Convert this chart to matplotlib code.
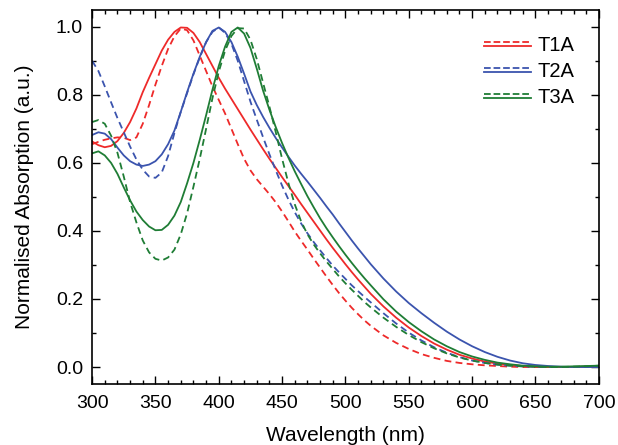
import numpy as np
import matplotlib
matplotlib.use('Agg')
import matplotlib.pyplot as plt
from matplotlib.lines import Line2D
from matplotlib.legend_handler import HandlerBase
from matplotlib.ticker import MultipleLocator

plt.rcParams['font.family'] = ['Liberation Sans', 'DejaVu Sans']

# wavelength grid (nm)
wl = [300, 305, 310, 315, 320, 325, 330, 335, 340, 345, 350, 355, 360, 365, 370,
      375, 380, 385, 390, 395, 400, 405, 410, 415, 420, 425, 430, 435, 440, 445,
      450, 455, 460, 465, 470, 475, 480, 485, 490, 495, 500, 505, 510, 515, 520,
      530, 540, 550, 560, 570, 580, 590, 600, 610, 620, 630, 640, 650, 660, 670,
      680, 690, 700]

# T1A
t1a_solid = [0.663, 0.652, 0.646, 0.650, 0.664, 0.688, 0.720, 0.760, 0.808, 0.850,
             0.890, 0.930, 0.962, 0.985, 0.998, 0.997, 0.982, 0.955, 0.920, 0.885,
             0.850, 0.818, 0.788, 0.758, 0.728, 0.698, 0.669, 0.640, 0.612, 0.585,
             0.558, 0.532, 0.506, 0.479, 0.453, 0.427, 0.401, 0.375, 0.350, 0.326,
             0.302, 0.279, 0.257, 0.236, 0.215,
             0.178, 0.145, 0.116, 0.091, 0.069, 0.051, 0.036, 0.025, 0.016, 0.010,
             0.006, 0.003, 0.001, 0.000, 0.000, 0.000, 0.001, 0.002]
t1a_dash = [0.655, 0.662, 0.668, 0.672, 0.675, 0.674, 0.667, 0.675, 0.715, 0.770,
            0.830, 0.885, 0.935, 0.972, 0.995, 0.990, 0.960, 0.915, 0.870, 0.825,
            0.785, 0.745, 0.700, 0.655, 0.612, 0.578, 0.552, 0.530, 0.508, 0.484,
            0.457, 0.428, 0.398, 0.371, 0.345, 0.318, 0.292, 0.266, 0.241, 0.217,
            0.195, 0.174, 0.155, 0.137, 0.121,
            0.093, 0.071, 0.053, 0.038, 0.027, 0.018, 0.012, 0.008, 0.005, 0.003,
            0.001, 0.000, 0.000, 0.000, 0.000, 0.000, 0.001, 0.002]

# T2A
t2a_solid = [0.682, 0.690, 0.686, 0.670, 0.645, 0.622, 0.605, 0.595, 0.591, 0.595,
             0.605, 0.625, 0.655, 0.695, 0.750, 0.808, 0.862, 0.912, 0.955, 0.988,
             0.998, 0.985, 0.955, 0.912, 0.862, 0.810, 0.770, 0.735, 0.703, 0.673,
             0.645, 0.618, 0.592, 0.568, 0.545, 0.521, 0.497, 0.472, 0.448, 0.422,
             0.397, 0.372, 0.348, 0.325, 0.302,
             0.260, 0.222, 0.188, 0.158, 0.130, 0.104, 0.081, 0.061, 0.044, 0.030,
             0.019, 0.011, 0.006, 0.003, 0.001, 0.000, 0.000, 0.000]
t2a_dash = [0.900, 0.870, 0.825, 0.778, 0.732, 0.690, 0.648, 0.610, 0.580, 0.560,
            0.556, 0.572, 0.620, 0.688, 0.750, 0.805, 0.860, 0.910, 0.955, 0.985,
            0.998, 0.982, 0.950, 0.900, 0.840, 0.780, 0.727, 0.675, 0.625, 0.578,
            0.533, 0.492, 0.455, 0.422, 0.393, 0.367, 0.343, 0.320, 0.298, 0.278,
            0.259, 0.240, 0.223, 0.206, 0.190,
            0.158, 0.128, 0.101, 0.078, 0.058, 0.042, 0.029, 0.019, 0.012, 0.007,
            0.004, 0.002, 0.001, 0.000, 0.000, 0.000, 0.000, 0.001]

# T3A
t3a_solid = [0.628, 0.634, 0.622, 0.600, 0.568, 0.528, 0.490, 0.457, 0.432, 0.413,
             0.402, 0.403, 0.418, 0.445, 0.485, 0.540, 0.600, 0.668, 0.740, 0.815,
             0.885, 0.942, 0.985, 0.998, 0.980, 0.938, 0.877, 0.812, 0.756, 0.705,
             0.658, 0.615, 0.575, 0.538, 0.502, 0.469, 0.437, 0.408, 0.381, 0.355,
             0.330, 0.306, 0.283, 0.261, 0.240,
             0.199, 0.163, 0.132, 0.105, 0.081, 0.061, 0.044, 0.031, 0.021, 0.013,
             0.008, 0.004, 0.002, 0.001, 0.001, 0.002, 0.003, 0.004]
t3a_dash = [0.720, 0.726, 0.715, 0.680, 0.630, 0.560, 0.485, 0.425, 0.372, 0.337,
            0.318, 0.313, 0.322, 0.345, 0.390, 0.452, 0.530, 0.612, 0.700, 0.790,
            0.868, 0.930, 0.973, 0.996, 0.995, 0.962, 0.905, 0.835, 0.765, 0.690,
            0.612, 0.540, 0.478, 0.428, 0.390, 0.360, 0.334, 0.310, 0.288, 0.266,
            0.246, 0.227, 0.209, 0.191, 0.175,
            0.145, 0.118, 0.094, 0.073, 0.055, 0.040, 0.028, 0.019, 0.012, 0.007,
            0.004, 0.002, 0.001, 0.000, 0.000, 0.001, 0.002, 0.004]

names = ['T1A', 'T2A', 'T3A']
colors = ['#ee2a2a', '#3b54ae', '#1f7d35']
solids = [t1a_solid, t2a_solid, t3a_solid]
dashes = [t1a_dash, t2a_dash, t3a_dash]


# legend entry: dashed line stacked above the solid one
class HandlerPair(HandlerBase):
    def create_artists(self, legend, orig_handle, xdescent, ydescent,
                       width, height, fontsize, trans):
        dash, solid = orig_handle
        yc = height / 2 - ydescent
        off = 1.4
        l1 = Line2D([-xdescent, width - xdescent], [yc + off, yc + off],
                    color=dash.get_color(), lw=dash.get_linewidth(),
                    linestyle=dash.get_linestyle(), transform=trans)
        l2 = Line2D([-xdescent, width - xdescent], [yc - off, yc - off],
                    color=solid.get_color(), lw=solid.get_linewidth(),
                    transform=trans)
        return [l1, l2]


fig = plt.figure(figsize=(6.18, 4.45), dpi=100)
ax = fig.add_axes([0.149, 0.137, 0.820, 0.841])

handles = []
for name, c, s, d in zip(names, colors, solids, dashes):
    ls, = ax.plot(wl, s, color=c, lw=1.3)
    ld, = ax.plot(wl, d, color=c, lw=1.3, linestyle=(0, (3.8, 2.4)))
    handles.append((ld, ls))

ax.set_xlim(300, 700)
ax.set_ylim(-0.05, 1.05)
ax.xaxis.set_major_locator(MultipleLocator(50))
ax.xaxis.set_minor_locator(MultipleLocator(10))
ax.yaxis.set_major_locator(MultipleLocator(0.2))
ax.yaxis.set_minor_locator(MultipleLocator(0.1))
ax.tick_params(which='both', direction='in', top=True, right=True,
               labelsize=14, width=1.0)
ax.tick_params(axis='x', which='major', length=5.5, pad=8)
ax.tick_params(axis='y', which='major', length=5.5, pad=6.5)
ax.tick_params(which='minor', length=3)
for sp in ax.spines.values():
    sp.set_linewidth(1.2)

ax.set_xlabel('Wavelength (nm)', fontsize=15, labelpad=10)
ax.set_ylabel('Normalised Absorption (a.u.)', fontsize=15, labelpad=16)

ax.legend(handles, names, handler_map={tuple: HandlerPair()},
          loc='upper right', bbox_to_anchor=(0.952, 0.93), frameon=False,
          fontsize=14.5, handlelength=2.35, handletextpad=0.3,
          labelspacing=0.35, borderpad=0, borderaxespad=0)

fig.savefig('out.png', dpi=100)
